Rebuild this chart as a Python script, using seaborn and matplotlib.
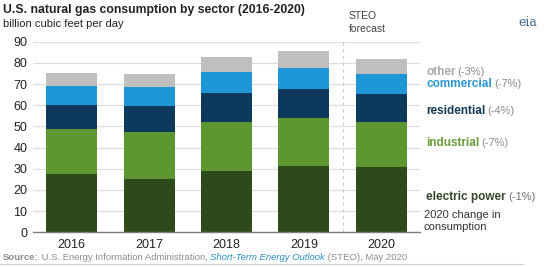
import numpy as np
import pandas as pd
import matplotlib
matplotlib.use("Agg")
import matplotlib.pyplot as plt
import seaborn as sns

years = ["2016", "2017", "2018", "2019", "2020"]
electric_power = [27.3, 25.1, 28.9, 31.1, 30.8]
industrial = [21.3, 22.3, 23.3, 23.0, 21.4]
residential = [11.7, 12.1, 13.6, 13.8, 13.0]
commercial = [9.0, 9.0, 10.0, 9.8, 9.5]
other = [6.0, 6.3, 7.1, 7.7, 7.3]

sectors = ["electric power", "industrial", "residential", "commercial", "other"]
changes = ["(-1%)", "(-7%)", "(-4%)", "(-7%)", "(-3%)"]
bar_colors = ["#2e4a1b", "#5e9732", "#0d3a5c", "#1f97d6", "#bfbfbf"]
label_colors = ["#39452e", "#6a9b3c", "#123a55", "#2a97d0", "#a9a9a9"]

sns.set_theme(style="white")
plt.rcParams['font.family'] = ['Liberation Sans', 'DejaVu Sans']

fig = plt.figure(figsize=(5.5, 2.67), dpi=100)
ax = fig.add_axes([0.06, 0.13, 0.7036, 0.7138])

series = [electric_power, industrial, residential, commercial, other]
cum = np.cumsum(np.array(series), axis=0)
for i in range(len(series) - 1, -1, -1):
    df = pd.DataFrame({"year": years, "value": cum[i]})
    sns.barplot(data=df, x="year", y="value", color=bar_colors[i], width=0.66,
                saturation=1, ax=ax, zorder=3, linewidth=0)

ax.set_ylim(0, 90)
ax.set_xlim(-0.5, 4.5)
ax.set_yticks(range(0, 91, 10))
ax.yaxis.grid(True, color="#dedede", linewidth=0.9, zorder=0)
ax.set_axisbelow(True)
for s in ["top", "right", "left"]:
    ax.spines[s].set_visible(False)
ax.spines["bottom"].set_color("#7f7f7f")
ax.spines["bottom"].set_linewidth(1.0)
ax.spines["bottom"].set_zorder(5)
ax.set_xlabel("")
ax.set_ylabel("")
ax.tick_params(axis="both", length=0, labelsize=9, colors="#222222", pad=4)
ax.tick_params(axis="x", pad=5)

# forecast divider
ax.axvline(3.5, ymin=0, ymax=1.0, color="#cccccc", linestyle=(0, (3, 3)), linewidth=0.8, zorder=1)

# Right-side labels
label_y = [16.9, 42.2, 57.5, 69.8, 75.6]
fig.canvas.draw()
for i, (name, ch, yv) in enumerate(zip(sectors, changes, label_y)):
    t = ax.text(4.58, yv, name, fontsize=8.5, fontweight="bold", color=label_colors[i],
                va="center", ha="left", clip_on=False)
    fig.canvas.draw()
    bb = t.get_window_extent()
    inv = ax.transData.inverted()
    x_end = inv.transform((bb.x1 + 2, bb.y0))[0]
    ax.text(x_end, yv, ch, fontsize=8, color="#8c8c8c" if i != 0 else "#6f6f6f",
            va="center", ha="left", clip_on=False)

fig.text(424 / 550, 1 - 215 / 267, "2020 change in", fontsize=8, color="#333333", va="center", ha="left")
fig.text(424 / 550, 1 - 227 / 267, "consumption", fontsize=8, color="#333333", va="center", ha="left")

# Titles
fig.text(3 / 550, 1 - 10 / 267, "U.S. natural gas consumption by sector (2016-2020)", fontsize=8.8,
         fontweight="bold", color="#222222", va="center", ha="left")
fig.text(3 / 550, 1 - 24 / 267, "billion cubic feet per day", fontsize=8, color="#222222",
         va="center", ha="left")
fig.text(349 / 550, 1 - 16 / 267, "STEO", fontsize=7.5, color="#444444", va="center", ha="left")
fig.text(349 / 550, 1 - 29 / 267, "forecast", fontsize=7.5, color="#444444", va="center", ha="left")

# eia logo text
fig.text(528 / 550, 1 - 22 / 267, "eia", fontsize=9, family="DejaVu Serif", color="#3b6a8c",
         va="center", ha="center")

# Source line
fig.canvas.draw()
renderer = fig.canvas.get_renderer()
x = 3
parts = [("Source:", dict(fontweight="bold", color="#8c8c8c")),
         (" U.S. Energy Information Administration, ", dict(color="#8c8c8c")),
         ("Short-Term Energy Outlook", dict(style="italic", color="#2a8fc8")),
         (" (STEO), May 2020", dict(color="#8c8c8c"))]
for txt, kw in parts:
    t = fig.text(x / 550, 1 - 257 / 267, txt, fontsize=6.8, va="center", ha="left", **kw)
    bb = t.get_window_extent(renderer=renderer)
    x = bb.x1

fig.add_artist(plt.Line2D([0, 0.95], [1 - 264 / 267, 1 - 264 / 267], color="#cccccc", linewidth=0.8))

fig.savefig("out.png", dpi=100)
